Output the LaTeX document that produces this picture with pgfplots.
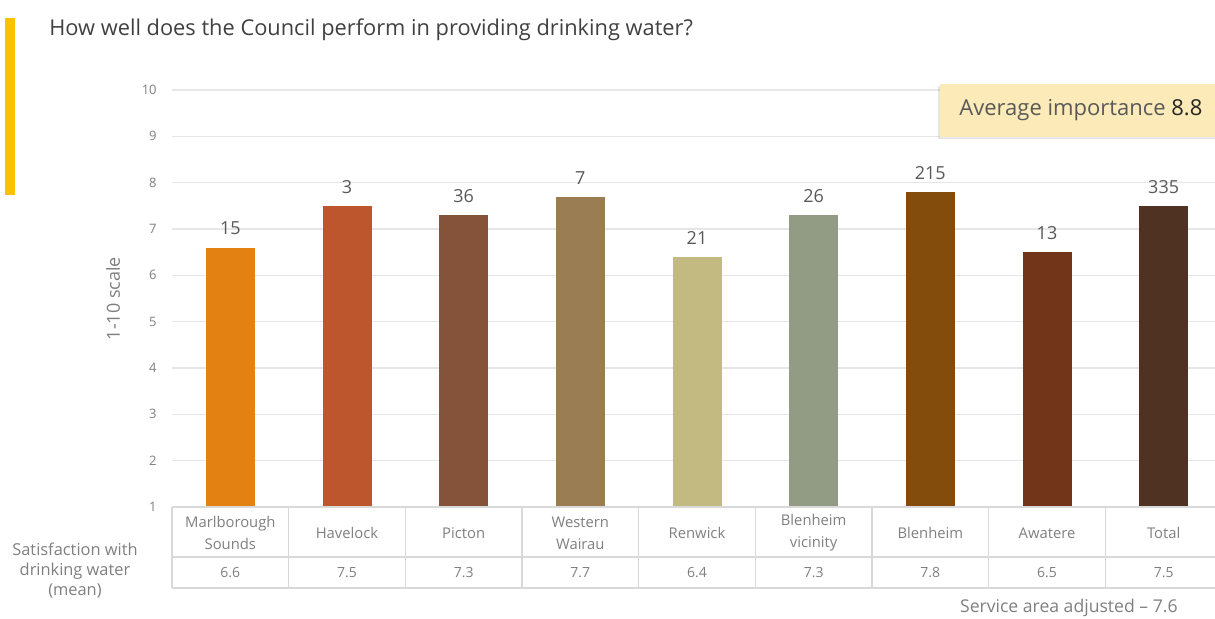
\documentclass[border=0pt]{standalone}
\usepackage{fontspec}
\setmainfont{Open Sans}
\usepackage{pgfplots}
\usepackage{pgfplotstable}
\pgfplotsset{compat=1.18}
\usetikzlibrary{shadows}

\definecolor{accent}{HTML}{FFC000}
\definecolor{titlegray}{HTML}{404040}
\definecolor{tickgray}{HTML}{7F7F7F}
\definecolor{labgray}{HTML}{595959}
\definecolor{gridgray}{HTML}{E6E6E6}
\definecolor{tablegray}{HTML}{D9D9D9}
\definecolor{boxfill}{HTML}{FCEBB8}
\definecolor{bar0}{HTML}{E38213}
\definecolor{bar1}{HTML}{BD562C}
\definecolor{bar2}{HTML}{85533A}
\definecolor{bar3}{HTML}{9A7D53}
\definecolor{bar4}{HTML}{C2BA80}
\definecolor{bar5}{HTML}{929B83}
\definecolor{bar6}{HTML}{844C0C}
\definecolor{bar7}{HTML}{72351A}
\definecolor{bar8}{HTML}{4F3222}

% mean satisfaction (1-10) and number of respondents per service area
\pgfplotstableread{
x mean n
0 6.6 15
1 7.5 3
2 7.3 36
3 7.7 7
4 6.4 21
5 7.3 26
6 7.8 215
7 6.5 13
8 7.5 335
}\water

\tikzset{cell/.style={align=center, text=tickgray, font=\fontsize{7.4}{11}\selectfont}}

\begin{document}
\begin{tikzpicture}
\useasboundingbox (0,0) rectangle (607.5pt,309pt);

% ---- bar chart ----
\begin{axis}[
  at={(86pt,55.5pt)}, anchor=south west,
  width=525pt, height=208.5pt, scale only axis,
  xmin=-0.5, xmax=8.5, ymin=1, ymax=10,
  ytick={1,...,10}, xtick=\empty,
  ymajorgrids, grid style={draw=gridgray, line width=0.7pt},
  axis lines=left, axis line style={draw=none}, tick style={draw=none},
  yticklabel style={font=\fontsize{6.5}{8}\selectfont, text=tickgray, xshift=-2pt},
  /pgf/number format/assume math mode=true,
  ylabel={1-10 scale},
  ylabel style={at={(axis description cs:-0.056,0.5)}, anchor=center,
    font=\fontsize{9}{10}\selectfont, text=tickgray},
  clip mode=individual,
  ybar, bar width=24.5pt,
  nodes near coords={\pgfmathprintnumber{\pgfplotspointmeta}},
  point meta=explicit,
  nodes near coords style={font=\fontsize{9}{10}\selectfont, text=labgray,
    anchor=south, inner sep=0pt, yshift=6pt},
]
\pgfplotsinvokeforeach{0,...,8}{
  \addplot[fill=bar#1, draw=none, bar shift=0pt]
    table[x=x, y=mean, meta=n, restrict x to domain=#1:#1]{\water};
}
\end{axis}

% ---- data table under the bars ----
\begin{axis}[
  at={(86pt,15pt)}, anchor=south west,
  width=525pt, height=40.5pt, scale only axis,
  xmin=-0.5, xmax=8.5, ymin=0, ymax=1,
  hide axis, clip=false,
]
\draw[tablegray, line width=0.7pt] (axis cs:-0.5,1) -- (axis cs:8.5,1);
\draw[tablegray, line width=0.7pt] (axis cs:-0.5,0.383) -- (axis cs:8.5,0.383);
\draw[tablegray, line width=0.7pt] (axis cs:-0.5,0) -- (axis cs:8.5,0);
\pgfplotsinvokeforeach{-0.5,0.5,1.5,2.5,3.5,4.5,5.5,6.5,7.5,8.5}{
  \draw[tablegray, line width=0.7pt] (axis cs:#1,0) -- (axis cs:#1,1);
}
\node[cell] at (axis cs:0,0.68) {Marlborough\\Sounds};
\node[cell] at (axis cs:1,0.68) {Havelock};
\node[cell] at (axis cs:2,0.68) {Picton};
\node[cell] at (axis cs:3,0.68) {Western\\Wairau};
\node[cell] at (axis cs:4,0.68) {Renwick};
\node[cell] at (axis cs:5,0.68) {Blenheim\\vicinity};
\node[cell] at (axis cs:6,0.68) {Blenheim};
\node[cell] at (axis cs:7,0.68) {Awatere};
\node[cell] at (axis cs:8,0.68) {Total};
\addplot[draw=none, mark=none,
  nodes near coords={\pgfmathprintnumber[fixed, fixed zerofill, precision=1, assume math mode=true]{\pgfplotspointmeta}},
  point meta=explicit,
  nodes near coords style={anchor=center, inner sep=0pt, text=tickgray,
    font=\fontsize{7}{8}\selectfont}]
  table[x=x, y expr=0.185, meta=mean]{\water};
\end{axis}

% ---- headings and notes ----
\begin{scope}[x=0.5pt, y=-0.5pt, yshift=309pt]
  \fill[accent] (5,18) rectangle (15,195);
  \node[anchor=west, inner sep=0pt, text=titlegray, font=\fontsize{10.9}{13}\selectfont]
    at (49,30) {How well does the Council perform in providing drinking water?};
  \fill[boxfill, drop shadow={shadow xshift=-1pt, shadow yshift=-1.2pt, opacity=0.2}]
    (940,84) rectangle (1240,137);
  \node[anchor=west, inner sep=0pt, font=\fontsize{11}{13}\selectfont]
    at (959,110) {\textcolor{labgray}{Average importance} \textcolor{black!85}{8.8}};
  \node[align=center, text=tickgray, font=\fontsize{8.2}{10}\selectfont]
    at (75,571) {Satisfaction with\\drinking water\\(mean)};
  \node[anchor=east, inner sep=0pt, text=tickgray, font=\fontsize{8.8}{10}\selectfont]
    at (1178,608) {Service area adjusted – 7.6};
\end{scope}
\end{tikzpicture}
\end{document}
